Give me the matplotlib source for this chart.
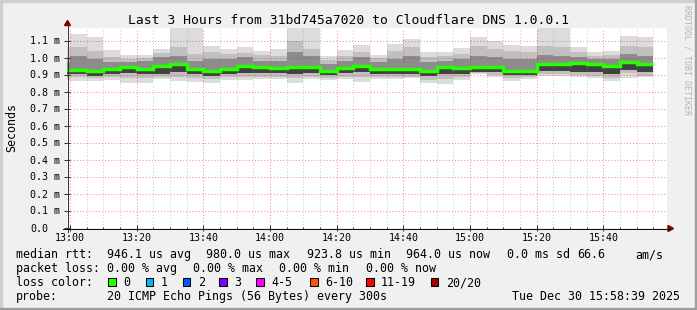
import numpy as np
import pandas as pd
import matplotlib
matplotlib.use("Agg")
import matplotlib.pyplot as plt
from matplotlib.patches import Rectangle, Polygon

W, H = 697, 310
MONO = "DejaVu Sans Mono"

# 5 minute slots (the first one is cut by the left edge of the graph)
slot_start = pd.date_range("2025-12-30 12:55", periods=36, freq="5min")

# values in ms
median_rtt = [0.928, 0.928, 0.924, 0.938, 0.945, 0.935, 0.953, 0.967, 0.935, 0.922,
              0.938, 0.951, 0.948, 0.943, 0.946, 0.946, 0.926, 0.944, 0.953, 0.938,
              0.936, 0.936, 0.926, 0.948, 0.942, 0.946, 0.946, 0.926, 0.926, 0.962,
              0.965, 0.970, 0.965, 0.953, 0.977, 0.962]
smoke_top = [1.063, 1.141, 1.125, 1.049, 1.018, 1.016, 1.053, 1.190, 1.190, 1.071,
             1.052, 1.064, 1.040, 1.055, 1.190, 1.190, 1.014, 1.047, 1.076, 1.017,
             1.082, 1.112, 1.035, 1.037, 1.058, 1.124, 1.101, 1.076, 1.073, 1.190,
             1.190, 1.067, 1.034, 1.043, 1.129, 1.125]
smoke_hi2 = [1.004, 1.063, 1.043, 1.004, 0.994, 1.000, 1.027, 1.063, 1.024, 1.033,
             1.024, 1.030, 1.018, 1.010, 1.102, 1.053, 0.988, 1.014, 1.037, 0.998,
             1.040, 1.063, 1.004, 1.010, 1.024, 1.073, 1.053, 1.043, 1.033, 1.073,
             1.063, 1.033, 1.014, 1.020, 1.073, 1.063]
smoke_hi3 = [0.975, 1.010, 0.994, 0.978, 0.975, 0.980, 1.004, 1.014, 0.984, 0.994,
             0.994, 1.004, 0.984, 0.980, 1.033, 1.014, 0.965, 0.984, 1.004, 0.975,
             0.994, 1.010, 0.975, 0.984, 0.994, 1.014, 1.004, 0.994, 0.994, 1.020,
             1.014, 1.004, 0.994, 0.994, 1.024, 1.014]
smoke_lo3 = [0.906, 0.906, 0.896, 0.906, 0.910, 0.906, 0.906, 0.915, 0.906, 0.896,
             0.906, 0.910, 0.910, 0.910, 0.906, 0.910, 0.900, 0.910, 0.915, 0.906,
             0.906, 0.906, 0.896, 0.906, 0.906, 0.920, 0.915, 0.900, 0.900, 0.925,
             0.925, 0.920, 0.915, 0.906, 0.930, 0.915]
smoke_lo2 = [0.886, 0.890, 0.882, 0.886, 0.882, 0.880, 0.890, 0.890, 0.882, 0.876,
             0.886, 0.890, 0.890, 0.890, 0.880, 0.890, 0.882, 0.890, 0.886, 0.886,
             0.886, 0.886, 0.870, 0.876, 0.886, 0.910, 0.900, 0.880, 0.886, 0.905,
             0.905, 0.900, 0.895, 0.882, 0.910, 0.895]
smoke_bottom = [0.871, 0.863, 0.867, 0.871, 0.855, 0.855, 0.876, 0.867, 0.861, 0.853,
                0.873, 0.871, 0.876, 0.876, 0.855, 0.876, 0.869, 0.874, 0.861, 0.874,
                0.876, 0.880, 0.855, 0.847, 0.868, 0.906, 0.890, 0.867, 0.876, 0.896,
                0.896, 0.886, 0.882, 0.863, 0.884, 0.890]

y_labels = ["0.0", "0.1 m", "0.2 m", "0.3 m", "0.4 m", "0.5 m", "0.6 m",
            "0.7 m", "0.8 m", "0.9 m", "1.0 m", "1.1 m"]
x_labels = ["13:00", "13:20", "13:40", "14:00", "14:20", "14:40", "15:00", "15:20", "15:40"]

loss_labels = ["0", "1", "2", "3", "4-5", "6-10", "11-19", "20/20"]
loss_colors = ["#26ff00", "#00b8ff", "#0059ff", "#7e00ff", "#ff00ff", "#ff5500", "#ff0000", "#a10000"]

title = "Last 3 Hours from 31bd745a7020 to Cloudflare DNS 1.0.0.1"

# minutes from 13:00
mins = (slot_start - pd.Timestamp("2025-12-30 13:00")).total_seconds().values / 60
edges = np.append(mins, mins[-1] + 5)


def px_box(l, t, r, b):
    return [l / W, 1 - b / H, (r - l) / W, (b - t) / H]


fig = plt.figure(figsize=(W / 100, H / 100), dpi=100, facecolor="#f0f0f0")
ax = fig.add_axes(px_box(67, 28, 667, 228))
ax.set_facecolor("white")
ax.set_xlim(-0.9, 179.1)
ax.set_ylim(0, 200 / 170)

# smoke, outer to inner
for lo, hi, col in [(smoke_bottom, smoke_top, "#dcdcdc"),
                    (smoke_lo2, smoke_hi2, "#c0c0c0"),
                    (smoke_lo3, smoke_hi3, "#8c8c8c")]:
    ax.stairs(hi, edges, baseline=lo, fill=True, color=col, lw=0, zorder=1)
ax.stairs(median_rtt, edges, baseline=smoke_lo3, fill=True, color="#424242", lw=0, zorder=2)
ax.stairs(median_rtt, edges, baseline=None, color="#26ff00", lw=2.5, zorder=4)

# grid on top, like rrdtool
dots = (0, (1, 2))
for m in np.arange(0, 180, 5):
    major = m % 20 == 0
    ax.axvline(m, color="#ff0000" if major else "#8f8f8f", alpha=0.45, lw=0.75, ls=dots, zorder=3)
for v in np.arange(1, 12) / 10:
    ax.axhline(v, color="#ff0000", alpha=0.45, lw=0.75, ls=dots, zorder=3)

ax.set_xticks(np.arange(0, 180, 20))
ax.set_xticks(np.arange(0, 180, 5), minor=True)
ax.set_yticks(np.arange(0, 12) / 10)
ax.tick_params(labelbottom=False, labelleft=False, direction="inout", length=4,
               width=0.75, color="#333333")
ax.tick_params(which="minor", direction="inout", length=2, width=0.75, color="#333333")
for s in ax.spines.values():
    s.set_visible(False)

# overlay in pixel coords for frame, axes arrows and all the text
ov = fig.add_axes([0, 0, 1, 1], zorder=10)
ov.set_xlim(0, W)
ov.set_ylim(H, 0)
ov.axis("off")

ov.add_patch(Rectangle((0, 0), W, 2, color="#cfcfcf"))
ov.add_patch(Rectangle((0, 0), 2, H, color="#cfcfcf"))
ov.add_patch(Rectangle((0, H - 2), W, 2, color="#9e9e9e"))
ov.add_patch(Rectangle((W - 2, 0), 2, H, color="#9e9e9e"))

ov.plot([67.5, 67.5], [232, 24], color="#333333", lw=0.75)
ov.plot([63, 670], [228.5, 228.5], color="#111111", lw=0.75)
ov.add_patch(Polygon([[64.5, 25.5], [70.5, 25.5], [67.5, 20.5]], color="#7f0000"))
ov.add_patch(Polygon([[668, 225.5], [668, 231.5], [673.5, 228.5]], color="#7f0000"))

ov.text(348.5, 24, title, ha="center", va="baseline", fontsize=9.4, family=MONO)
ov.text(11.5, 128, "Seconds", rotation=90, ha="center", va="center", fontsize=8.4, family=MONO)
ov.text(687, 60, "RRDTOOL / TOBI OETIKER", rotation=270, ha="center", va="center",
        fontsize=6, family=MONO, color="#b4b4b4")

for i, lab in enumerate(y_labels):
    ov.text(30, 228 - i * 17 + 3.5, lab, ha="left", va="baseline", fontsize=7.2, family=MONO)
for i, lab in enumerate(x_labels):
    ov.text(70 + i * 200 / 3, 241, lab, ha="center", va="baseline", fontsize=7.2, family=MONO)

rows = [
    (258.3, [(16, "median rtt:"), (107.3, "946.1 us avg"), (206, "980.0 us max"),
             (307, "923.8 us min"), (406.5, "964.0 us now"), (507, "0.0 ms sd"),
             (577.7, "66.6"), (635, "am/s")]),
    (272.3, [(16, "packet loss:"), (107.3, "0.00 % avg"), (193.3, "0.00 % max"),
             (279.3, "0.00 % min"), (365.7, "0.00 % now")]),
    (286, [(16, "loss color:")]),
    (300, [(16, "probe:"), (107.3, "20 ICMP Echo Pings (56 Bytes) every 300s")]),
]
for yb, items in rows:
    for x, s in items:
        ov.text(x, yb, s, ha="left", va="baseline", fontsize=8.4, family=MONO)
ov.text(680, 300, "Tue Dec 30 15:58:39 2025", ha="right", va="baseline", fontsize=8.4, family=MONO)

box_x = [108.3, 145.7, 182.7, 219.3, 256, 310, 366, 430.7]
for x, lab, col in zip(box_x, loss_labels, loss_colors):
    ov.add_patch(Rectangle((x, 277.5), 7.5, 8, facecolor=col, edgecolor="black", lw=0.75))
    ov.text(x + 15, 286, lab, ha="left", va="baseline", fontsize=8.4, family=MONO)

fig.savefig("out.png", dpi=100, facecolor=fig.get_facecolor())
